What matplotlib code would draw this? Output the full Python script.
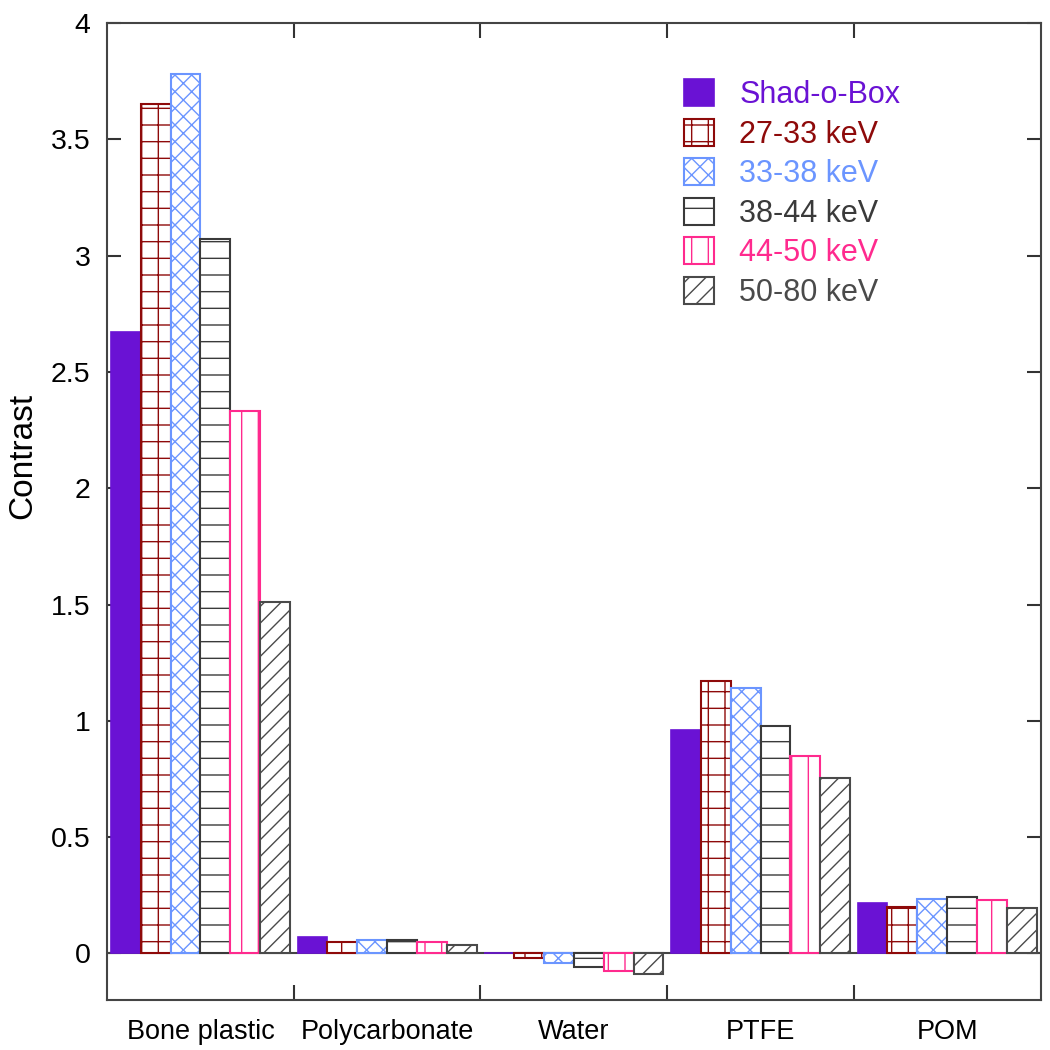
import matplotlib
matplotlib.use("Agg")
import matplotlib.pyplot as plt
import numpy as np

plt.rcParams['font.family'] = ['Liberation Sans', 'DejaVu Sans']

# data
materials = ["Bone plastic", "Polycarbonate", "Water", "PTFE", "POM"]
series = ["Shad-o-Box", "27-33 keV", "33-38 keV", "38-44 keV", "44-50 keV", "50-80 keV"]
shadobox = [2.67, 0.07, 0.0, 0.96, 0.215]
kev_27_33 = [3.65, 0.05, -0.02, 1.17, 0.20]
kev_33_38 = [3.78, 0.06, -0.04, 1.14, 0.236]
kev_38_44 = [3.07, 0.06, -0.06, 0.98, 0.245]
kev_44_50 = [2.33, 0.05, -0.075, 0.85, 0.23]
kev_50_80 = [1.51, 0.035, -0.09, 0.755, 0.197]
yticks = [0, 0.5, 1, 1.5, 2, 2.5, 3, 3.5, 4]
ytick_labels = ["0", "0.5", "1", "1.5", "2", "2.5", "3", "3.5", "4"]

values = [shadobox, kev_27_33, kev_33_38, kev_38_44, kev_44_50, kev_50_80]
colors = ["#6a12d4", "#8e0a0a", "#6b95ff", "#3a3a3a", "#ff2a8e", "#4a4a4a"]
hatches = [None, "+", "xx", "-", "|", "//"]

fig = plt.figure(figsize=(10.5, 10.5), dpi=100)
ax = fig.add_axes([0.102, 0.0476, 0.889, 0.9305])

w = 0.16
x = np.arange(len(materials))
for i, (vals, c, h, name) in enumerate(zip(values, colors, hatches, series)):
    pos = x + (i - 2.5) * w
    if h is None:
        ax.bar(pos, vals, w, color=c, edgecolor=c, linewidth=1.2, label=name, zorder=3)
    else:
        ax.bar(pos, vals, w, facecolor="white", edgecolor=c, hatch=h,
               linewidth=1.5, label=name, zorder=3)

ax.axhline(0, color="#444444", lw=1.5, zorder=2)

ax.set_xlim(-0.5, 4.5)
ax.set_ylim(-0.2, 4)
ax.set_yticks(yticks)
ax.set_yticklabels(ytick_labels, fontsize=20.5)
ax.set_xticks(x[:-1] + 0.5)
ax.set_xticklabels([])
ax.set_xticks(x, minor=True)
ax.set_xticklabels(materials, minor=True, fontsize=19.5)
ax.tick_params(axis="x", which="minor", length=0, pad=14)
ax.tick_params(axis="x", which="major", direction="in", length=11, width=1.5,
               top=True, color="#333333")
ax.tick_params(axis="y", direction="in", length=10, width=1.5, right=True,
               color="#333333", pad=12)
for s in ax.spines.values():
    s.set_color("#444444")
    s.set_linewidth(1.5)

ax.set_ylabel("Contrast", fontsize=24)
ax.yaxis.set_label_coords(-0.074, 0.557)

leg = ax.legend(loc="upper left", bbox_to_anchor=(0.602, 0.958), frameon=False,
                fontsize=22, handlelength=0.98, handleheight=0.98,
                labelspacing=0.28, handletextpad=0.82, borderpad=0)
for t, c in zip(leg.get_texts(), colors):
    t.set_color(c)

fig.savefig("out.png", dpi=100)
